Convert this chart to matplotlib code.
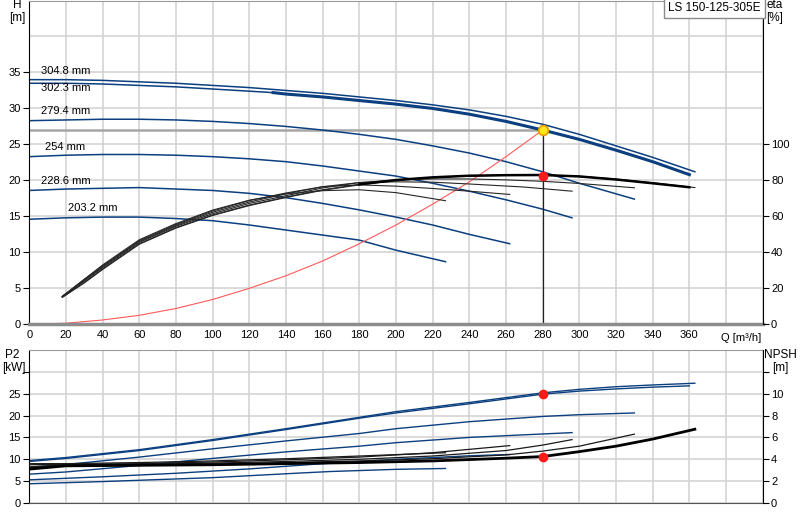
import matplotlib
matplotlib.use("Agg")
import matplotlib.pyplot as plt
import numpy as np

plt.rcParams['font.family'] = ['Liberation Sans', 'DejaVu Sans']
plt.rcParams['font.size'] = 8

#
#  DATA
#

BLUE = '#0b3f80'
GRID = '#d4d4d4'

dia_labels = ['304.8 mm', '302.3 mm', '279.4 mm', '254 mm', '228.6 mm', '203.2 mm']
label_q = [20, 20, 20, 19.5, 20, 34.7]
label_h = [35.2, 32.8, 29.6, 24.6, 19.9, 16.1]

# head curves  Q [m3/h] -> H [m]
q_3048 = [0, 20, 40, 60, 80, 100, 120, 140, 160, 180, 200, 220, 240, 260, 280, 300, 320, 340, 363]
h_3048 = [34.0, 34.0, 33.9, 33.7, 33.5, 33.2, 32.9, 32.5, 32.1, 31.6, 31.1, 30.5, 29.8, 28.9, 27.8, 26.4, 24.8, 23.2, 21.2]
q_3023 = [0, 20, 40, 60, 80, 100, 120, 133, 140, 160, 180, 200, 220, 240, 260, 280, 300, 320, 340, 360]
h_3023 = [33.5, 33.5, 33.4, 33.2, 33.0, 32.7, 32.4, 32.2, 32.0, 31.6, 31.1, 30.6, 30.0, 29.2, 28.2, 27.0, 25.7, 24.2, 22.6, 20.8]
q_2794 = [0, 20, 40, 60, 80, 100, 120, 140, 160, 180, 200, 220, 240, 260, 280, 300, 330]
h_2794 = [28.3, 28.4, 28.5, 28.5, 28.4, 28.2, 27.9, 27.5, 27.0, 26.4, 25.7, 24.8, 23.8, 22.6, 21.2, 19.6, 17.4]
q_254 = [0, 20, 40, 60, 80, 100, 120, 140, 160, 180, 200, 220, 240, 260, 280, 296]
h_254 = [23.3, 23.5, 23.6, 23.6, 23.5, 23.3, 23.0, 22.6, 22.0, 21.3, 20.6, 19.6, 18.5, 17.3, 16.0, 14.8]
q_2286 = [0, 20, 40, 60, 80, 100, 120, 140, 160, 180, 200, 220, 240, 262]
h_2286 = [18.6, 18.8, 18.9, 19.0, 18.8, 18.6, 18.2, 17.6, 16.8, 15.9, 14.9, 13.8, 12.5, 11.2]
q_2032 = [0, 20, 40, 60, 80, 100, 120, 140, 160, 180, 200, 227]
h_2032 = [14.6, 14.8, 14.9, 14.9, 14.7, 14.4, 13.8, 13.1, 12.4, 11.7, 10.3, 8.7]

# efficiency curves  Q -> eta [%]
eq_3048 = [18, 30, 40, 60, 80, 100, 120, 140, 160, 180, 200, 220, 240, 260, 280, 300, 320, 340, 363]
eta_3048 = [15, 23, 30.5, 44.5, 53.5, 60.5, 66.0, 70.5, 74.5, 77.5, 80.0, 81.5, 82.5, 82.8, 83.0, 82.3, 80.7, 78.7, 76.0]
eq_3023 = [18, 30, 40, 60, 80, 100, 120, 140, 160, 180, 200, 220, 240, 260, 280, 300, 320, 340, 360]
eta_3023 = [15, 23.3, 30.8, 44.8, 53.8, 60.8, 66.3, 70.8, 74.8, 77.8, 80.2, 81.7, 82.6, 82.9, 83.0, 82.2, 80.5, 78.4, 76.2]
eq_2794 = [18, 30, 40, 60, 80, 100, 120, 140, 160, 180, 200, 220, 240, 260, 280, 300, 330]
eta_2794 = [15.5, 24, 31.5, 45.5, 54.5, 61.5, 67.2, 71.5, 75.8, 78.8, 80.2, 80.8, 80.8, 80.3, 79.5, 78.3, 75.9]
eq_254 = [18, 30, 40, 60, 80, 100, 120, 140, 160, 180, 200, 220, 240, 270, 296]
eta_254 = [15.5, 24.5, 32, 46, 55, 62.3, 68, 72.5, 76.5, 78.8, 79.2, 79.0, 78.0, 76.3, 74.0]
eq_2286 = [18, 30, 40, 60, 80, 100, 120, 140, 160, 180, 200, 220, 240, 262]
eta_2286 = [15.5, 25, 32.5, 46.5, 55.5, 63, 68.8, 73, 76.5, 77.5, 76.8, 75.5, 74.0, 72.2]
eq_2032 = [18, 30, 40, 60, 80, 100, 120, 140, 160, 180, 200, 227]
eta_2032 = [15.5, 25, 33, 47, 56, 63.5, 69, 72.5, 74.3, 74.8, 73.2, 68.7]

# system curve
sys_q = [0, 20, 40, 60, 80, 100, 120, 140, 160, 180, 200, 220, 240, 260, 280]
sys_h = [0, 0.15, 0.6, 1.25, 2.2, 3.45, 5.0, 6.75, 8.8, 11.2, 13.8, 16.7, 19.8, 23.3, 27.0]

duty_q = 280
duty_h = 27.0
duty_eta = 82.6
duty_p2 = 24.9
duty_npsh = 4.25

# power curves  Q -> P2 [kW]
pq_3048 = [0, 20, 60, 100, 140, 180, 200, 240, 280, 300, 320, 340, 363]
p2_3048 = [9.7, 10.4, 12.2, 14.5, 17.0, 19.6, 20.9, 23.0, 25.2, 26.0, 26.6, 27.0, 27.4]
pq_3023 = [0, 20, 60, 100, 140, 180, 200, 240, 280, 300, 320, 340, 360]
p2_3023 = [9.5, 10.2, 12.0, 14.3, 16.8, 19.4, 20.6, 22.7, 24.9, 25.6, 26.1, 26.5, 26.8]
pq_2794 = [0, 20, 60, 100, 140, 180, 200, 240, 280, 300, 330]
p2_2794 = [8.2, 8.8, 10.5, 12.4, 14.2, 15.9, 17.0, 18.6, 19.8, 20.2, 20.6]
pq_254 = [0, 20, 60, 100, 140, 180, 200, 240, 270, 296]
p2_254 = [6.6, 7.1, 8.6, 10.2, 11.7, 13.0, 13.8, 15.0, 15.6, 16.1]
pq_2286 = [0, 40, 80, 120, 160, 200, 240, 262]
p2_2286 = [5.3, 6.0, 6.8, 7.8, 9.0, 10.0, 10.8, 11.1]
pq_2032 = [0, 40, 80, 100, 145, 164, 200, 227]
p2_2032 = [4.4, 4.9, 5.5, 5.8, 6.8, 7.2, 7.7, 7.9]

# NPSH curves  Q -> NPSH [m]
nq_3048 = [0, 20, 60, 100, 140, 180, 220, 260, 280, 300, 320, 340, 363]
npsh_3048 = [3.1, 3.4, 3.45, 3.5, 3.6, 3.7, 3.85, 4.1, 4.25, 4.7, 5.2, 5.85, 6.75]
nq_2794 = [0, 20, 60, 100, 140, 180, 220, 260, 280, 300, 330]
npsh_2794 = [3.2, 3.45, 3.5, 3.55, 3.7, 3.85, 4.05, 4.4, 4.75, 5.2, 6.3]
nq_254 = [0, 20, 60, 100, 140, 180, 220, 260, 280, 296]
npsh_254 = [3.3, 3.5, 3.55, 3.65, 3.8, 4.0, 4.3, 4.8, 5.3, 5.8]
nq_2286 = [0, 20, 60, 100, 140, 180, 220, 262]
npsh_2286 = [3.5, 3.55, 3.6, 3.75, 3.95, 4.2, 4.6, 5.25]
nq_2032 = [0, 20, 60, 100, 140, 180, 227]
npsh_2032 = [3.6, 3.6, 3.7, 3.85, 4.05, 4.3, 4.6]

q_ticks = list(range(0, 361, 20))


def style_axes(ax, gray_bottom):
	ax.set_xlim(0, 400)
	ax.set_xticks(range(0, 401, 20))
	ax.grid(True, color=GRID, lw=1.2)
	ax.set_axisbelow(True)
	ax.spines['left'].set_color('black')
	ax.spines['top'].set_color('#999999')
	ax.spines['right'].set_visible(False)
	if gray_bottom:
		ax.spines['bottom'].set_color('#8c8c8c')
		ax.spines['bottom'].set_linewidth(2.5)
	else:
		ax.spines['bottom'].set_color('#555555')
	ax.tick_params(axis='x', length=0, pad=4)
	ax.tick_params(axis='y', length=4, pad=2, direction='out')


fig = plt.figure(figsize=(8, 5.2), dpi=100)

# ---- top panel: head + efficiency
ax = fig.add_axes([29.3/800, 1-324.3/520, (762.7-29.3)/800, 324.3/520 - 0.001])
style_axes(ax, True)
ax.set_ylim(0, 45)
ax.set_yticks(range(0, 36, 5))
ax.axhline(40, color=GRID, lw=1.2, zorder=0)
ax.set_xticklabels([str(v) if v in q_ticks else '' for v in range(0, 401, 20)])

for q, h in [(q_3048, h_3048), (q_3023, h_3023), (q_2794, h_2794),
			(q_254, h_254), (q_2286, h_2286), (q_2032, h_2032)]:
	ax.plot(q, h, color=BLUE, lw=1.1)
q_arr = np.array(q_3023)
ax.plot(q_arr[q_arr >= 133], np.array(h_3023)[q_arr >= 133], color=BLUE, lw=2.2)

for lab, lq, lh in zip(dia_labels, label_q, label_h):
	ax.text(lq, lh, lab, ha='center', va='center', fontsize=8)

ax.plot(sys_q, sys_h, color='#ff5a5a', lw=0.8)
ax.plot([0, duty_q], [duty_h, duty_h], color='#a6a6a6', lw=1.8, zorder=1.5)
ax.plot([duty_q, duty_q], [0, duty_h], color='#222222', lw=0.9)

ax.text(377, -0.028, 'Q [m³/h]', transform=ax.get_xaxis_transform(),
		ha='left', va='top', fontsize=8)

ax2 = ax.twinx()
ax2.set_ylim(0, 180)
ax2.set_yticks(range(0, 101, 20))
for s in ['left', 'top', 'bottom']:
	ax2.spines[s].set_visible(False)
ax2.spines['right'].set_color('black')
ax2.tick_params(axis='y', length=4, pad=2)

eta_curves = [(eq_2032, eta_2032), (eq_2286, eta_2286), (eq_254, eta_254),
			(eq_2794, eta_2794), (eq_3048, eta_3048), (eq_3023, eta_3023)]
for q, e in eta_curves:
	ax2.plot(q, e, color='#262626', lw=0.8)
eq_arr = np.array(eq_3023)
ax2.plot(eq_arr[eq_arr >= 180], np.array(eta_3023)[eq_arr >= 180], color='black', lw=1.8)

ax2.plot(duty_q, duty_eta, 'o', color='#ff1a1a', ms=6, zorder=5)
ax2.plot(duty_q, duty_h*4, 'o', mfc='#ffe81a', mec='#e89a00', ms=7, mew=1.2, zorder=6)

ax2.text(0.997, 0.995, 'LS 150-125-305E', transform=ax2.transAxes, ha='right', va='top',
		fontsize=8.5, bbox=dict(boxstyle='square,pad=0.35', fc='white', ec='#8a8a8a', lw=1))

# ---- bottom panel: power + NPSH
bx = fig.add_axes([29.3/800, 1-503/520, (762.7-29.3)/800, (503-350)/520])
style_axes(bx, False)
bx.set_ylim(0, 35)
bx.set_yticks(range(0, 31, 5))
bx.set_yticklabels([str(v) for v in range(0, 26, 5)] + [''])
bx.set_xticklabels([])

for q, p in [(pq_2794, p2_2794), (pq_254, p2_254), (pq_2286, p2_2286), (pq_2032, p2_2032)]:
	bx.plot(q, p, color=BLUE, lw=1.0)
bx.plot(pq_3048, p2_3048, color=BLUE, lw=1.0)
bx.plot(pq_3023, p2_3023, color=BLUE, lw=1.0)
bx.plot(duty_q, duty_p2, 'o', color='#ff1a1a', ms=6, zorder=5)

bx2 = bx.twinx()
bx2.set_ylim(0, 14)
bx2.set_yticks(range(0, 13, 2))
bx2.set_yticklabels([str(v) for v in range(0, 11, 2)] + [''])
for s in ['left', 'top', 'bottom']:
	bx2.spines[s].set_visible(False)
bx2.spines['right'].set_color('black')
bx2.tick_params(axis='y', length=4, pad=2)

for q, n in [(nq_2032, npsh_2032), (nq_2286, npsh_2286), (nq_254, npsh_254), (nq_2794, npsh_2794)]:
	bx2.plot(q, n, color='#1a1a1a', lw=0.9)
bx2.plot(nq_3048, npsh_3048, color='black', lw=2.0)
bx2.plot(duty_q, duty_npsh, 'o', color='#ff1a1a', ms=6, zorder=5)

# axis captions
fig.text(17/800, 1-5/520, 'H', ha='center', va='center', fontsize=8.5)
fig.text(17/800, 1-17.5/520, '[m]', ha='center', va='center', fontsize=8.5)
fig.text(775/800, 1-5/520, 'eta', ha='center', va='center', fontsize=8.5)
fig.text(775/800, 1-17.5/520, '[%]', ha='center', va='center', fontsize=8.5)
fig.text(12/800, 1-355.5/520, 'P2', ha='center', va='center', fontsize=8.5)
fig.text(13.5/800, 1-368/520, '[kW]', ha='center', va='center', fontsize=8.5)
fig.text(780/800, 1-355.5/520, 'NPSH', ha='center', va='center', fontsize=8.5)
fig.text(780/800, 1-368/520, '[m]', ha='center', va='center', fontsize=8.5)

fig.savefig('out.png', dpi=100)
